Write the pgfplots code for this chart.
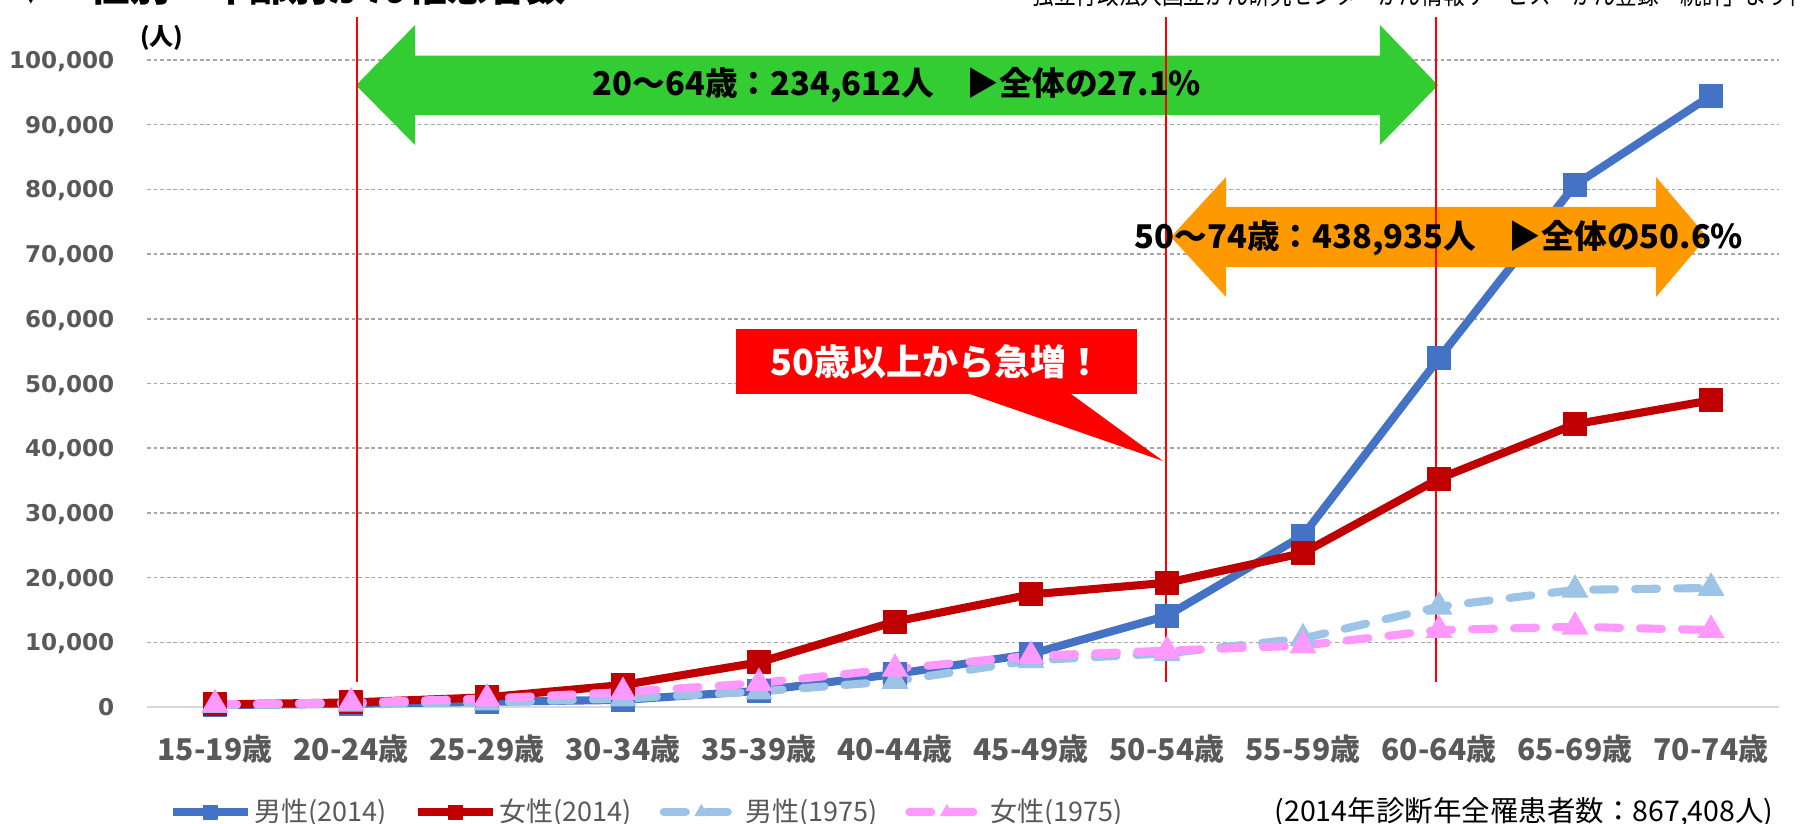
\documentclass[border=0pt]{standalone}
\usepackage{fontspec}
\setmainfont{Noto Sans CJK JP}
\newfontfamily\dv{DejaVu Sans}
\usepackage{graphicx}
\usepackage{pgfplots}
\pgfplotsset{compat=1.18}
\definecolor{c1}{HTML}{4472C4}
\definecolor{c2}{HTML}{C00000}
\definecolor{c3}{HTML}{9DC3E6}
\definecolor{c4}{HTML}{FF99FF}
\definecolor{lbl}{HTML}{595959}
\definecolor{grn}{HTML}{33CC33}
\definecolor{org}{HTML}{FF9900}
\definecolor{grd}{HTML}{A6A6A6}
\definecolor{axl}{HTML}{D9D9D9}
\begin{document}
\begin{tikzpicture}
\useasboundingbox (-49pt,-38.667pt) rectangle (551pt,235.667pt);
\begin{axis}[
  at={(0pt,0pt)}, anchor=south west,
  scale only axis, width=544pt, height=215.667pt,
  xmin=-0.5, xmax=11.5, ymin=0, ymax=100000,
  clip=false,
  xtick={0,...,11},
  xticklabels={15-19歳,20-24歳,25-29歳,30-34歳,35-39歳,40-44歳,45-49歳,50-54歳,55-59歳,60-64歳,65-69歳,70-74歳},
  ytick={10000,20000,30000,40000,50000,60000,70000,80000,90000,100000},
  yticklabels={{10,000},{20,000},{30,000},{40,000},{50,000},{60,000},{70,000},{80,000},{90,000},{100,000}},
  extra y ticks={0}, extra y tick labels={0}, extra y tick style={grid=none},
  scaled y ticks=false,
  ymajorgrids,
  grid style={grd, line width=0.5pt, dash pattern=on 1.3pt off 0.9pt},
  axis x line*=bottom, axis y line*=left,
  y axis line style={draw=none},
  x axis line style={axl, line width=0.8pt},
  major tick length=0pt,
  xticklabel style={font=\bfseries\fontsize{10}{12}\selectfont, text=lbl, anchor=base, yshift=-17.8pt, inner sep=0pt},
  yticklabel style={font=\dv\bfseries\fontsize{7.7}{9}\selectfont, text=lbl, anchor=base east, inner sep=0pt, xshift=-10.7pt, yshift=-2.85pt},
  legend columns=4,
  legend style={at={(0,0)}, anchor=west, xshift=7pt, yshift=-35pt, draw=none, fill=none, inner sep=0pt,
    nodes={inner sep=0.8pt, font=\fontsize{9}{10}\selectfont, text=lbl},
    /tikz/every even column/.append style={column sep=8.5pt}},
  legend image code/.code={\draw[mark repeat=2,mark phase=2,#1,mark size=2.3pt] plot coordinates {(0pt,0pt)(12.5pt,0pt)(25pt,0pt)};},
]
\addplot[c1, line width=2.7pt, line join=round, mark=square*, mark size=3.8pt, mark options={solid, line width=0.4pt}]
 coordinates {(0,300)(1,500)(2,800)(3,1100)(4,2500)(5,5100)(6,8200)(7,14100)(8,26500)(9,53900)(10,80700)(11,94500)};
\addlegendentry{男性(2014)}
\addplot[c2, line width=2.7pt, line join=round, mark=square*, mark size=3.8pt, mark options={solid, line width=0.4pt}]
 coordinates {(0,400)(1,700)(2,1500)(3,3400)(4,6900)(5,13200)(6,17400)(7,19200)(8,23800)(9,35300)(10,43700)(11,47400)};
\addlegendentry{女性(2014)}
\addplot[c3, line width=2.7pt, line cap=round, dash pattern=on 7.3pt off 6.7pt, mark=triangle*, mark size=4.8pt, mark options={solid, line width=0.4pt}]
 coordinates {(0,300)(1,500)(2,700)(3,1300)(4,2400)(5,4000)(6,7200)(7,8300)(8,10600)(9,15500)(10,18100)(11,18400)};
\addlegendentry{男性(1975)}
\addplot[c4, line width=2.7pt, line cap=round, dash pattern=on 7.3pt off 6.7pt, mark=triangle*, mark size=4.8pt, mark options={solid, line width=0.4pt}]
 coordinates {(0,400)(1,700)(2,1300)(3,2300)(4,3700)(5,5900)(6,7900)(7,8700)(8,9500)(9,11900)(10,12400)(11,11900)};
\addlegendentry{女性(1975)}
% green double arrow
\fill[grn] (1.037,96090) -- (1.471,105410) -- (1.471,100695) -- (8.566,100695) -- (8.566,105410) -- (8.993,96090)
  -- (8.566,86862) -- (8.566,91499) -- (1.471,91499) -- (1.471,86862) -- cycle;
% orange double arrow
\fill[org] (7.029,72643) -- (7.434,81917) -- (7.434,77280) -- (10.596,77280) -- (10.596,81917) -- (10.971,72643)
  -- (10.596,63369) -- (10.596,68006) -- (7.434,68006) -- (7.434,63369) -- cycle;
% callout
\fill[red] (3.831,58420) -- (6.779,58420) -- (6.779,48380) -- (6.294,48380) -- (6.971,38022) -- (5.551,48380) -- (3.831,48380) -- cycle;
% red vertical lines
\draw[red, line width=0.7pt] (1.044,3900) -- (1.044,106700);
\draw[red, line width=0.7pt] (6.99,3900) -- (6.99,106700);
\draw[red, line width=0.7pt] (8.98,3900) -- (8.98,106700);
\node[font=\bfseries\fontsize{10.9}{12}\selectfont, inner sep=0pt] at (5.015,96090) {20～64歳：234,612人　▶全体の27.1\%};
\node[font=\bfseries\fontsize{10.9}{12}\selectfont, inner sep=0pt] at (9.0,72400) {50～74歳：438,935人　▶全体の50.6\%};
\node[text=white, font=\bfseries\fontsize{12}{14}\selectfont, inner sep=0pt] at (5.305,53400) {50歳以上から急増！};
\end{axis}
\node[anchor=base west, inner sep=0pt, font=\bfseries\fontsize{13.2}{15}\selectfont] at (-45.3pt,235pt) {▼　性別・年齢別がん罹患者数};
\node[anchor=base west, inner sep=0pt, font=\fontsize{9}{10}\selectfont] at (295pt,234.1pt) {\scalebox{0.8}[1]{独立行政法人国立がん研究センターがん情報サービス「がん登録・統計」より作成}};
\node[font=\bfseries\fontsize{8}{9}\selectfont, inner sep=0pt] at (5pt,223pt) {(人)};
\node[anchor=west, inner sep=0pt, font=\fontsize{9.5}{11}\selectfont] at (375.7pt,-35pt) {(2014年診断年全罹患者数：867,408人)};
\end{tikzpicture}
\end{document}
